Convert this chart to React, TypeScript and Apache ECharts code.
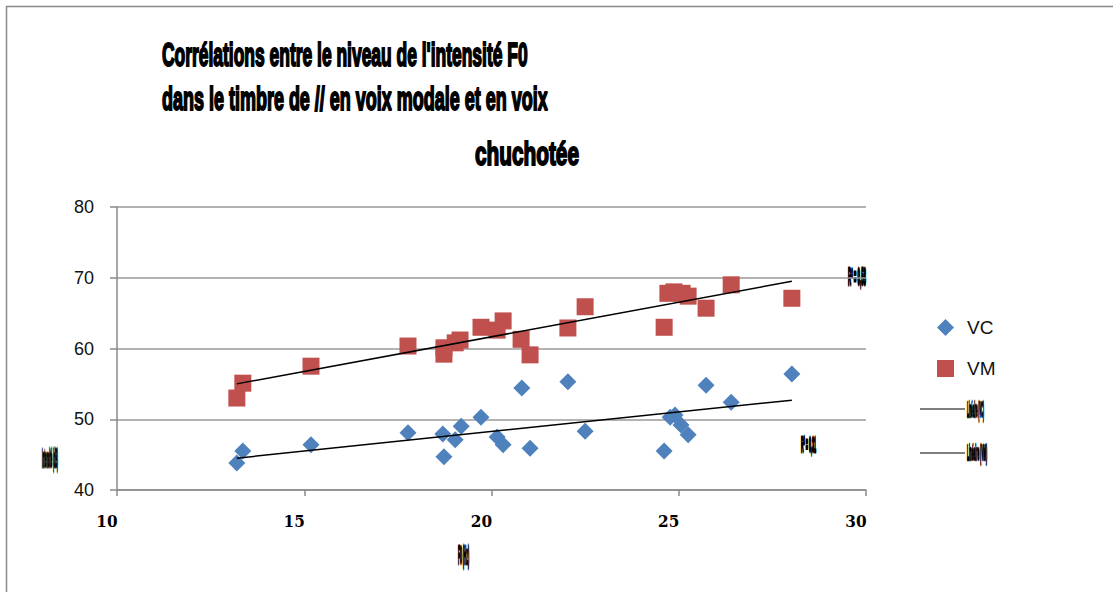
import React, { useEffect, useRef } from "react";
import * as echarts from "echarts";

// ---- Data ----
const titleLines = [
  "Corrélations entre le niveau de l'intensité F0",
  "dans le timbre de // en voix modale et en voix",
  "chuchotée",
];

const seriesNames = ["VC", "VM"];
const trendNames = ["Linéaire (VC)", "Linéaire (VM)"];
const trendLabels = ["R² = 0,31", "R² = 0,58"];
const xAxisName = "F0 (Hz)";
const yAxisName = "Intensité (dB)";

const xRange = [10, 30, 5];
const yRange = [40, 80, 10];

const vcPoints: number[][] = [
  [13.2, 43.8], [13.36, 45.5], [15.18, 46.4], [17.77, 48.1], [18.7, 47.9],
  [18.73, 44.7], [19.03, 47.1], [19.19, 49.0], [19.72, 50.3], [20.15, 47.5],
  [20.31, 46.4], [20.81, 54.4], [21.03, 45.9], [22.04, 55.3], [22.5, 48.3],
  [24.61, 45.5], [24.77, 50.3], [24.9, 50.6], [25.06, 49.2], [25.25, 47.8],
  [25.73, 54.8], [26.4, 52.4], [28.02, 56.4],
];

const vmPoints: number[][] = [
  [13.2, 53.0], [13.36, 55.1], [15.18, 57.5], [17.77, 60.35], [18.73, 60.1],
  [18.73, 59.2], [19.03, 60.8], [19.16, 61.2], [19.72, 63.0], [20.15, 62.6],
  [20.31, 63.9], [20.79, 61.3], [21.03, 59.1], [22.04, 62.9], [22.5, 65.9],
  [24.61, 63.0], [24.71, 67.8], [24.87, 68.0], [25.09, 67.8], [25.25, 67.4],
  [25.73, 65.7], [26.4, 69.0], [28.02, 67.1],
];

const vcTrend: number[][] = [[13.2, 44.5], [28.02, 52.7]];
const vmTrend: number[][] = [[13.2, 55.0], [28.02, 69.5]];

const BLUE = "#4F81BD";
const RED = "#C0504D";

function measure(text: string, font: string): number {
  const c = document.createElement("canvas");
  const ctx = c.getContext("2d");
  if (!ctx) return text.length * 10;
  ctx.font = font;
  return ctx.measureText(text).width || text.length * 10;
}

function squished(
  text: string,
  x: number,
  y: number,
  targetWidth: number,
  fontSize: number,
  strokeWidth: number = 0,
  family: string = "Liberation Sans"
) {
  const weight = "bold";
  const font = `${weight} ${fontSize}px "${family}"`;
  const w = measure(text, font);
  return {
    type: "text",
    x,
    y,
    scaleX: targetWidth / w,
    scaleY: 1,
    silent: true,
    style: {
      text,
      fontSize,
      fontWeight: weight,
      fontFamily: family,
      fill: "#000",
      stroke: strokeWidth > 0 ? "#000" : undefined,
      lineWidth: strokeWidth,
      align: "left",
      verticalAlign: "middle",
    },
  };
}

export default function App() {
  const ref = useRef<HTMLDivElement>(null);

  useEffect(() => {
    if (!ref.current) return;
    const chart = echarts.init(ref.current, undefined, { renderer: "svg" });

    const graphics: any[] = [
      {
        type: "rect",
        shape: { x: 6.5, y: 6.5, width: 1130, height: 600 },
        style: { fill: "none", stroke: "#8a8a8a", lineWidth: 1.5 },
        silent: true,
      },
      squished(titleLines[0], 162, 55, 366, 34, 2),
      squished(titleLines[1], 162, 98, 386, 34, 2),
      squished(titleLines[2], 475, 153, 104, 34, 2),
      squished(yAxisName, 42, 458, 16, 26, 3),
      squished(xAxisName, 458, 555, 11, 26, 3),
      squished(trendLabels[1], 848, 277, 18, 24, 3),
      squished(trendLabels[0], 801, 444, 15, 22, 3),
      {
        type: "line",
        shape: { x1: 920, y1: 409, x2: 965, y2: 409 },
        style: { stroke: "#000", lineWidth: 1.2 },
        silent: true,
      },
      {
        type: "line",
        shape: { x1: 920, y1: 453, x2: 965, y2: 453 },
        style: { stroke: "#000", lineWidth: 1.2 },
        silent: true,
      },
      squished(trendNames[0], 967, 409, 17, 22, 2.5),
      squished(trendNames[1], 967, 452, 20, 22, 2.5),
    ];

    chart.setOption({
      animation: false,
      backgroundColor: "#fff",
      grid: { left: 117, top: 207, width: 749, height: 283, containLabel: false },
      legend: {
        data: [
          { name: seriesNames[0], icon: "diamond" },
          { name: seriesNames[1], icon: "rect" },
        ],
        orient: "vertical",
        left: 932,
        top: 313,
        itemWidth: 17,
        itemHeight: 17,
        itemGap: 22,
        textStyle: { fontSize: 19, fontFamily: "Liberation Sans", color: "#111", padding: [0, 0, 0, 8] },
        selectedMode: false,
      },
      xAxis: {
        type: "value",
        min: xRange[0],
        max: xRange[1],
        interval: xRange[2],
        axisLine: { show: true, lineStyle: { color: "#8a8a8a", width: 1.5 } },
        axisTick: { show: true, length: 6, lineStyle: { color: "#8a8a8a", width: 1.5 } },
        splitLine: { show: false },
        axisLabel: {
          fontFamily: "DejaVu Serif Condensed, DejaVu Serif",
          fontWeight: "bold",
          fontSize: 17,
          color: "#000",
          margin: 22,
          padding: [0, 20, 0, 0],
        },
      },
      yAxis: {
        type: "value",
        min: yRange[0],
        max: yRange[1],
        interval: yRange[2],
        axisLine: { show: true, lineStyle: { color: "#8a8a8a", width: 1.5 } },
        axisTick: { show: true, length: 7, lineStyle: { color: "#8a8a8a", width: 1.5 } },
        splitLine: { show: true, lineStyle: { color: "#9a9a9a", width: 1.5 } },
        axisLabel: {
          fontFamily: "Liberation Sans",
          fontSize: 18,
          color: "#111",
          margin: 23,
        },
      },
      series: [
        {
          name: seriesNames[0],
          type: "scatter",
          symbol: "diamond",
          symbolSize: 17,
          itemStyle: { color: BLUE, opacity: 1 },
          data: vcPoints,
          z: 3,
        },
        {
          name: seriesNames[1],
          type: "scatter",
          symbol: "rect",
          symbolSize: 17,
          itemStyle: { color: RED, opacity: 1 },
          data: vmPoints,
          z: 3,
        },
        {
          name: trendNames[0],
          type: "line",
          data: vcTrend,
          symbol: "none",
          lineStyle: { color: "#000", width: 1.5 },
          z: 4,
        },
        {
          name: trendNames[1],
          type: "line",
          data: vmTrend,
          symbol: "none",
          lineStyle: { color: "#000", width: 1.5 },
          z: 4,
        },
      ],
      graphic: graphics,
    });

    return () => chart.dispose();
  }, []);

  return (
    <div
      ref={ref}
      style={{ position: "fixed", left: 0, top: 0, width: 1113, height: 592, background: "#fff" }}
    />
  );
}
